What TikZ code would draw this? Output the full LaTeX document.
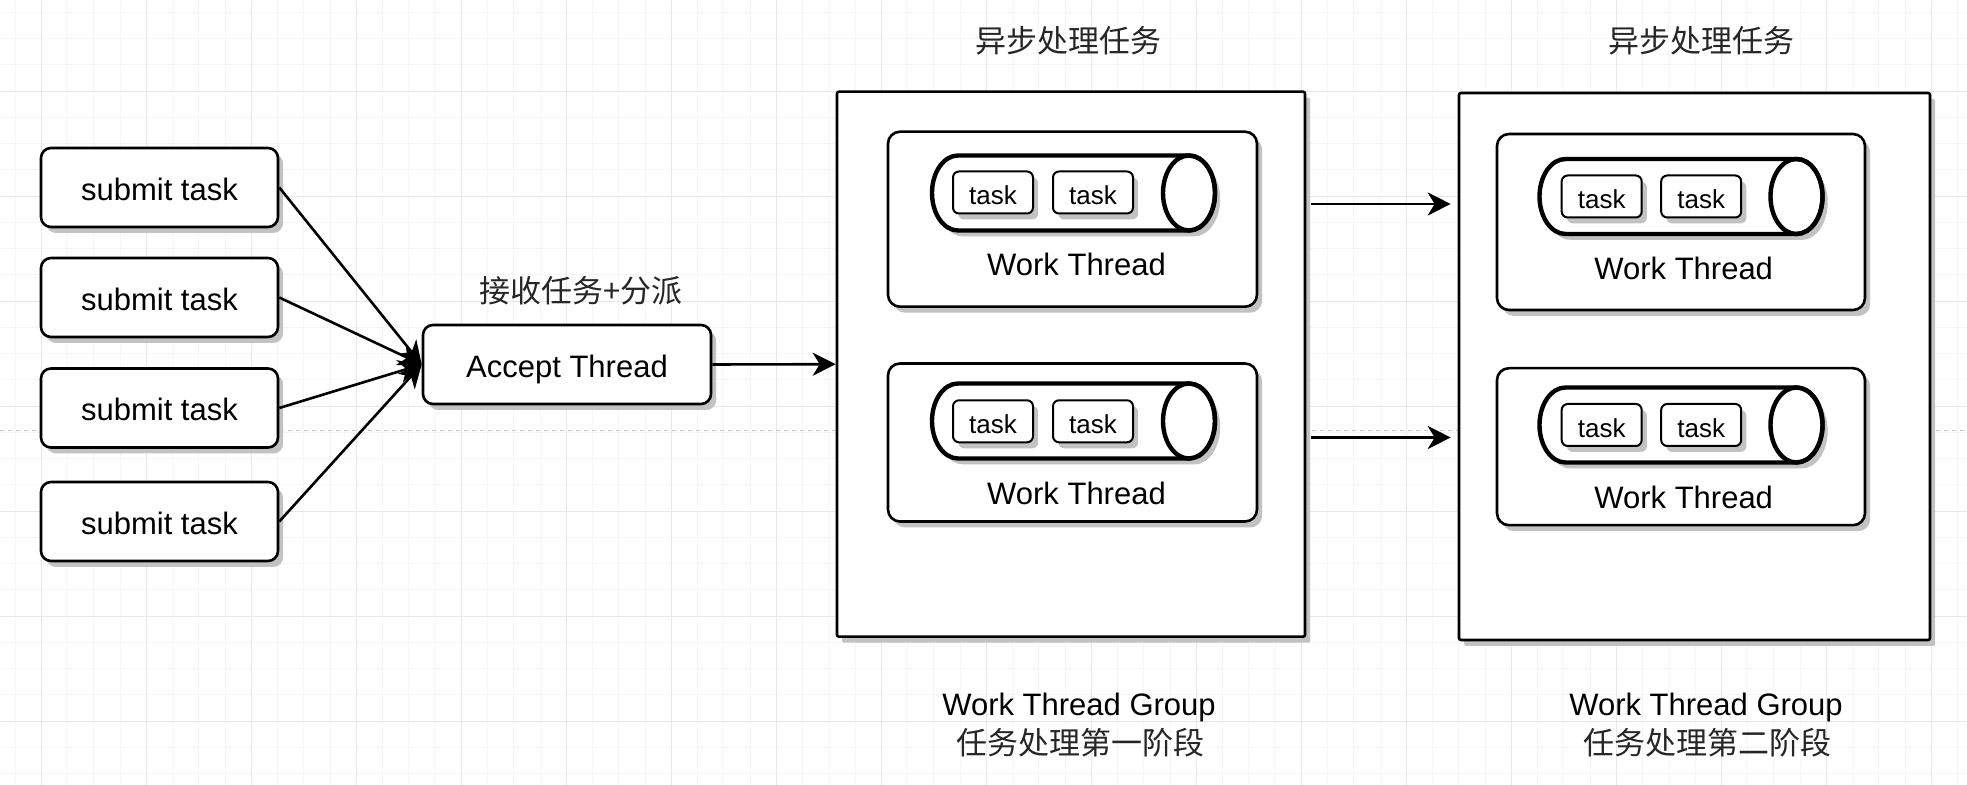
\documentclass[tikz,border=0pt]{standalone}
\usepackage{fontspec}
\setmainfont{Liberation Sans}
\newfontfamily\cjk{Noto Sans CJK SC}
\usetikzlibrary{arrows.meta,shadows,calc}
\tikzset{
  gridminor/.style={draw=black!4, line width=0.5pt},
  gridmajor/.style={draw=black!9, line width=0.5pt},
  pageline/.style={draw=black!22, line width=0.5pt, dash pattern=on 2pt off 2pt},
  shad/.style={drop shadow={shadow xshift=2.6pt, shadow yshift=-3pt, fill=black!24, opacity=1}},
  box/.style={shad, draw, fill=white, line width=1.3pt, rounded corners=5pt,
    font=\fontsize{15.5}{18}\selectfont, text height=13pt, text depth=0pt, inner sep=0pt},
  submitbox/.style={box, minimum width=118.5pt, minimum height=39.5pt},
  acceptbox/.style={box, minimum width=144pt, minimum height=39.5pt},
  groupbox/.style={box, rounded corners=1pt},
  wtbox/.style={box, rounded corners=6pt, minimum width=184.5pt},
  taskbox/.style={box, line width=1pt, rounded corners=3pt, minimum width=40pt, minimum height=21pt,
    font=\fontsize{13}{15}\selectfont, text height=12.5pt},
  lbl/.style={font=\fontsize{15.5}{18}\selectfont, inner sep=0pt, anchor=base},
  cjklabel/.style={font=\cjk\fontsize{15.5}{18}\selectfont, text=black!85, inner sep=0pt, anchor=base},
  arr/.style={-{Stealth[length=11.5pt, width=11.5pt, inset=3.5pt]}, line width=1.3pt},
  pics/tube/.style={code={
    \path[shad, draw, fill=white, line width=2.2pt]
      (57.75pt,18.75pt) -- (-57.75pt,18.75pt)
      arc[start angle=90, end angle=270, x radius=13pt, y radius=18.75pt]
      -- (57.75pt,-18.75pt)
      arc[start angle=-90, end angle=90, x radius=13pt, y radius=18.75pt] -- cycle;
    \path[draw, line width=2.2pt] (57.75pt,0pt) ellipse[x radius=13pt, y radius=18.75pt];
    \coordinate (-c) at (0pt,0pt);
  }}
}
\begin{document}
\begin{tikzpicture}[x=0.5pt, y=-0.5pt]
\useasboundingbox (0,0) rectangle (1967,785);
\fill[white] (0,0) rectangle (1967,785);
% background grid
\foreach \k in {0,...,74} \draw[gridminor] ({15+26.25*\k},0) -- ({15+26.25*\k},785);
\foreach \k in {0,...,29} \draw[gridminor] (0,{12.3+26.25*\k}) -- (1967,{12.3+26.25*\k});
\foreach \k in {0,...,18} \draw[gridmajor] ({41.25+105*\k},0) -- ({41.25+105*\k},785);
\foreach \k in {0,...,6} \draw[gridmajor] (0,{91.05+105*\k}) -- (1967,{91.05+105*\k});
\draw[pageline] (0,430.7) -- (1967,430.7);

% submit tasks
\node[submitbox] (s1) at (159.5,187.5) {submit task};
\node[submitbox] (s2) at (159.5,297.5) {submit task};
\node[submitbox] (s3) at (159.5,408) {submit task};
\node[submitbox] (s4) at (159.5,521.5) {submit task};

% accept thread
\node[acceptbox] (acc) at (567,364.5) {Accept Thread};
\node[cjklabel] (accl) at (581,303) {接收任务+分派};

% groups
\node[groupbox, minimum width=234pt, minimum height=272.5pt] (g1) at (1071,364.2) {};
\node[groupbox, minimum width=235.5pt, minimum height=273.5pt] (g2) at (1694.5,366.5) {};

% work thread boxes, group 1
\node[wtbox, minimum height=87.5pt] (w11) at (1072.5,219.2) {};
\node[wtbox, minimum height=79pt] (w12) at (1072.5,442.5) {};
% work thread boxes, group 2
\node[wtbox, minimum width=184pt, minimum height=88pt] (w21) at (1681,222) {};
\node[wtbox, minimum width=184pt, minimum height=78.5pt] (w22) at (1681,446.7) {};

% queues
\pic (c11) at (1073.5,193) {tube};
\pic (c12) at (1073.5,421) {tube};
\pic (c21) at (1681,196.5) {tube};
\pic (c22) at (1681,425) {tube};

% tasks
\node[taskbox] (t111) at (993,192.5) {task};
\node[taskbox] (t112) at (1093,192.5) {task};
\node[taskbox] (t121) at (993,421.3) {task};
\node[taskbox] (t122) at (1093,421.3) {task};
\node[taskbox] (t211) at (1601.7,196.5) {task};
\node[taskbox] (t212) at (1701.2,196.5) {task};
\node[taskbox] (t221) at (1601.7,425) {task};
\node[taskbox] (t222) at (1701.2,425) {task};

% work thread labels
\node[lbl] (l11) at (1076.5,276) {Work Thread};
\node[lbl] (l12) at (1076.5,505) {Work Thread};
\node[lbl] (l21) at (1683.7,280) {Work Thread};
\node[lbl] (l22) at (1683.7,508.3) {Work Thread};

% titles
\node[cjklabel] (h1) at (1068,53) {异步处理任务};
\node[cjklabel] (h2) at (1701,53) {异步处理任务};
\node[lbl] (f1) at (1079,716) {Work Thread Group};
\node[cjklabel] (f1c) at (1080,755) {任务处理第一阶段};
\node[lbl] (f2) at (1706,716) {Work Thread Group};
\node[cjklabel] (f2c) at (1707,755) {任务处理第二阶段};

% connectors
\foreach \i in {1,...,4} \draw[arr] (s\i.east) -- (acc.west);
\draw[arr] (acc.east) -- (g1.west);
\coordinate (ya) at (0,204);
\coordinate (yb) at (0,437.5);
\draw[arr] ($(g1.east|-ya)+(5,0)$) -- ($(g2.west|-ya)+(-7,0)$);
\draw[arr] ($(g1.east|-yb)+(5,0)$) -- ($(g2.west|-yb)+(-7,0)$);
\end{tikzpicture}
\end{document}
